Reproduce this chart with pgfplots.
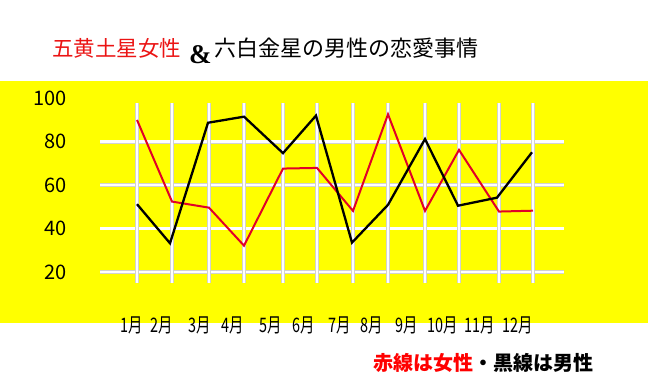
\documentclass[border=0pt]{standalone}
\usepackage{pgfplots}
\pgfplotsset{compat=1.18}
\usepackage{fontspec}
\newfontfamily\cjk{Noto Sans CJK JP}
\newfontfamily\serifb{Liberation Serif}
\definecolor{yel}{RGB}{255,255,0}
\definecolor{redl}{RGB}{225,0,40}
\definecolor{titlered}{RGB}{235,20,20}
\newcommand\nl[1]{\scalebox{0.72}[1]{#1}}
\begin{document}
\begin{tikzpicture}[x=1pt,y=1pt]
\path[use as bounding box] (0,0) rectangle (648,388);
\fill[white] (0,0) rectangle (648,388);
\fill[yel] (0,65) rectangle (648,307);
% title
\node[anchor=west, inner sep=0pt, text=titlered] at (52,340) {\cjk\fontsize{21.5}{21.5}\selectfont 五黄土星女性};
\node[anchor=west, inner sep=0pt, text=black] at (189,333) {\serifb\bfseries\fontsize{27}{27}\selectfont \&};
\node[anchor=west, inner sep=0pt, text=black] at (214,340) {\cjk\fontsize{22}{22}\selectfont 六白金星の男性の恋愛事情};
% note
\node[anchor=west, inner sep=0pt] at (373,25) {\cjk\bfseries\fontsize{20}{20}\selectfont \textcolor{red}{赤線は女性}・黒線は男性};
\begin{axis}[
  at={(100pt,105pt)}, anchor=south west,
  scale only axis, width=464pt, height=180pt,
  xmin=100, xmax=564, ymin=14.9, ymax=97.8,
  axis line style={draw=none},
  tick style={draw=none}, major tick length=0pt,
  /pgf/number format/assume math mode=true,
  ytick={20,40,60,80},
  ymajorgrids=true, xmajorgrids=false,
  xtick={132,162,200,233,271,304,340,372,407,443,480,518},
  xticklabels={\nl{1月},\nl{2月},\nl{3月},\nl{4月},\nl{5月},\nl{6月},\nl{7月},\nl{8月},\nl{9月},\nl{10月},\nl{11月},\nl{12月}},
  extra x ticks={137,172,209,244,283,317,353,388,425,459,499,533},
  extra x tick labels={},
  extra x tick style={grid=major},
  grid style={draw=gray!35, line width=0.7pt, double=white, double distance=2.4pt},
  yticklabel style={font=\cjk\fontsize{20}{20}\selectfont, anchor=east, inner sep=0pt, xshift=-33pt},
  xticklabel style={font=\cjk\fontsize{20}{20}\selectfont, anchor=center, inner sep=0pt, yshift=-42pt},
  clip=false,
]
\addplot[redl, line width=2pt] coordinates {(137,90.0)(172,52.4)(209,49.6)(244,32.1)(283,67.6)(317,67.9)(353,48.1)(388,92.6)(425,48.1)(459,76.2)(499,47.8)(533,48.2)};
\addplot[black, line width=2.3pt] coordinates {(137,51.2)(170,33.2)(208,88.7)(244,91.5)(283,74.7)(316,92.0)(352,33.5)(388,50.9)(425,81.2)(458,50.5)(497,54.2)(532,75.1)};
\node[anchor=east, inner sep=0pt, font=\cjk\fontsize{20}{20}\selectfont] at ([xshift=-33pt]axis cs:100,100) {100};
\end{axis}
\end{tikzpicture}
\end{document}
